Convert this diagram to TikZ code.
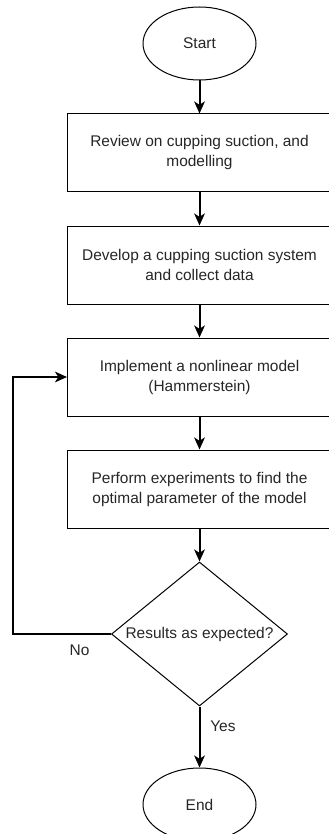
\documentclass[tikz,border=0pt]{standalone}
\usepackage{fontspec}
\setmainfont{Liberation Sans}
\usepackage{tikz}
\usetikzlibrary{shapes.geometric, arrows.meta, positioning}

\begin{document}
\begin{tikzpicture}[x=0.75pt, y=0.75pt, node distance=24.75pt,
		every node/.style={font=\fontsize{11.6}{15}\selectfont, text=black!85},
		terminal/.style={draw, ellipse, line width=0.75pt, minimum width=84.75pt, minimum height=54.75pt, inner sep=0pt},
		process/.style={draw, rectangle, line width=0.75pt, minimum width=198pt, minimum height=58.5pt, align=center},
		decision/.style={draw, diamond, line width=0.75pt, minimum width=132pt, minimum height=108pt, inner sep=0pt},
		flow/.style={-{Stealth[length=9pt, width=8pt, inset=2.5pt]}, line width=1.5pt, draw=black}]
		\useasboundingbox (0,0) rectangle (328,-834);
		
		\node[terminal] (start) at (199.5,-43.5) {Start};
		\node[process, below = of start] (review) {Review on cupping suction, and\\modelling};
		\node[process, below = of review] (develop) {Develop a cupping suction system\\and collect data};
		\node[process, below = of develop] (model) {Implement a nonlinear model\\(Hammerstein)};
		\node[process, below = of model] (experiment) {Perform experiments to find the\\optimal parameter of the model};
		\node[decision, below = of experiment, label=center:Results as expected?] (check) {};
		\node[terminal, below = 45.75pt of check] (finish) {End};
		
		\coordinate (loop) at (12.5,-631);
		
		\draw[flow] (start) to (review);
		\draw[flow] (review) to (develop);
		\draw[flow] (develop) to (model);
		\draw[flow] (model) to (experiment);
		\draw[flow] (experiment) to (check);
		\draw[flow] (check) to node[right=4pt, pos=0.32] {Yes} (finish);
		
		\draw[flow] (check.west) -- node[below=4pt, pos=0.32] {No} (check.west -| loop) |- (model.west);
		
	\end{tikzpicture}
\end{document}
